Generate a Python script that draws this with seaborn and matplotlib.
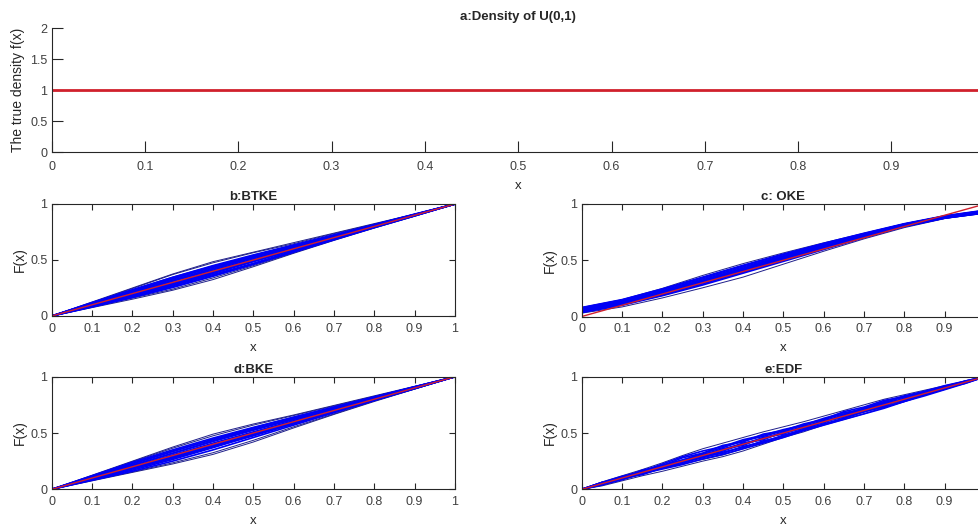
import numpy as np
import pandas as pd
import matplotlib
matplotlib.use('Agg')
import matplotlib.pyplot as plt
import seaborn as sns

# ====================== DATA ======================
# grid used for the smooth kernel estimates
x_grid = [0.0, 0.1, 0.2, 0.3, 0.4, 0.5, 0.6, 0.7, 0.8, 0.9, 1.0]
# finer grid for the empirical distribution function
x_fine = [0.0, 0.05, 0.1, 0.15, 0.2, 0.25, 0.3, 0.35, 0.4, 0.45, 0.5,
          0.55, 0.6, 0.65, 0.7, 0.75, 0.8, 0.85, 0.9, 0.95, 1.0]

density_x = [0.0, 1.0]
density_y = [1.0, 1.0]
true_cdf_x = [0.0, 1.0]
true_cdf_y = [0.0, 1.0]

btke_core = [
    [0, 0.115, 0.230, 0.345, 0.450, 0.545, 0.635, 0.725, 0.815, 0.905, 1],
    [0, 0.085, 0.170, 0.260, 0.360, 0.465, 0.575, 0.685, 0.790, 0.895, 1],
    [0, 0.110, 0.220, 0.330, 0.440, 0.540, 0.630, 0.720, 0.810, 0.905, 1],
    [0, 0.090, 0.180, 0.270, 0.370, 0.470, 0.580, 0.690, 0.800, 0.900, 1],
    [0, 0.105, 0.210, 0.315, 0.420, 0.520, 0.615, 0.710, 0.805, 0.900, 1],
    [0, 0.095, 0.190, 0.290, 0.390, 0.490, 0.590, 0.690, 0.795, 0.900, 1],
    [0, 0.100, 0.205, 0.310, 0.410, 0.510, 0.610, 0.710, 0.810, 0.905, 1],
    [0, 0.115, 0.225, 0.335, 0.435, 0.530, 0.620, 0.715, 0.810, 0.905, 1],
    [0, 0.085, 0.175, 0.275, 0.380, 0.485, 0.590, 0.700, 0.800, 0.900, 1],
    [0, 0.100, 0.195, 0.295, 0.400, 0.500, 0.600, 0.700, 0.800, 0.900, 1],
    [0, 0.110, 0.215, 0.320, 0.425, 0.525, 0.625, 0.720, 0.815, 0.910, 1],
    [0, 0.090, 0.185, 0.285, 0.385, 0.490, 0.595, 0.695, 0.795, 0.895, 1],
    [0, 0.120, 0.235, 0.345, 0.445, 0.535, 0.625, 0.715, 0.810, 0.905, 1],
    [0, 0.080, 0.165, 0.255, 0.355, 0.460, 0.570, 0.680, 0.790, 0.895, 1],
]
btke_outer = [
    [0, 0.120, 0.245, 0.370, 0.475, 0.565, 0.645, 0.735, 0.820, 0.910, 1],
    [0, 0.080, 0.160, 0.240, 0.340, 0.450, 0.565, 0.680, 0.790, 0.895, 1],
    [0, 0.125, 0.250, 0.375, 0.485, 0.570, 0.655, 0.740, 0.825, 0.910, 1],
    [0, 0.075, 0.150, 0.230, 0.325, 0.440, 0.560, 0.675, 0.785, 0.890, 1],
]

oke_core = [
    [0.060, 0.130, 0.220, 0.320, 0.425, 0.530, 0.630, 0.725, 0.815, 0.885, 0.930],
    [0.050, 0.120, 0.210, 0.310, 0.415, 0.520, 0.620, 0.720, 0.810, 0.880, 0.925],
    [0.070, 0.140, 0.230, 0.335, 0.440, 0.540, 0.640, 0.730, 0.820, 0.890, 0.940],
    [0.040, 0.110, 0.200, 0.300, 0.405, 0.510, 0.610, 0.710, 0.805, 0.875, 0.920],
    [0.080, 0.150, 0.245, 0.350, 0.455, 0.555, 0.650, 0.740, 0.825, 0.895, 0.945],
    [0.055, 0.125, 0.215, 0.315, 0.420, 0.525, 0.625, 0.720, 0.810, 0.885, 0.930],
    [0.065, 0.135, 0.225, 0.325, 0.430, 0.535, 0.635, 0.730, 0.820, 0.890, 0.935],
    [0.045, 0.115, 0.205, 0.305, 0.410, 0.515, 0.615, 0.715, 0.805, 0.880, 0.925],
    [0.035, 0.100, 0.185, 0.280, 0.385, 0.490, 0.595, 0.700, 0.800, 0.875, 0.920],
    [0.075, 0.145, 0.240, 0.345, 0.450, 0.550, 0.645, 0.735, 0.820, 0.890, 0.940],
    [0.040, 0.105, 0.190, 0.290, 0.395, 0.500, 0.605, 0.705, 0.800, 0.875, 0.925],
]
oke_outer = [
    [0.080, 0.150, 0.250, 0.365, 0.470, 0.565, 0.655, 0.740, 0.825, 0.895, 0.945],
    [0.030, 0.085, 0.165, 0.255, 0.350, 0.465, 0.580, 0.690, 0.790, 0.870, 0.920],
]

bke_core = [
    [0, 0.110, 0.225, 0.335, 0.445, 0.545, 0.640, 0.730, 0.820, 0.910, 1],
    [0, 0.090, 0.180, 0.275, 0.375, 0.475, 0.580, 0.685, 0.790, 0.895, 1],
    [0, 0.105, 0.210, 0.320, 0.425, 0.525, 0.620, 0.715, 0.810, 0.905, 1],
    [0, 0.095, 0.190, 0.285, 0.385, 0.490, 0.590, 0.695, 0.795, 0.900, 1],
    [0, 0.100, 0.200, 0.305, 0.410, 0.510, 0.610, 0.710, 0.805, 0.900, 1],
    [0, 0.115, 0.230, 0.340, 0.440, 0.535, 0.625, 0.715, 0.810, 0.905, 1],
    [0, 0.085, 0.170, 0.265, 0.370, 0.480, 0.590, 0.695, 0.800, 0.900, 1],
    [0, 0.100, 0.195, 0.295, 0.395, 0.500, 0.600, 0.700, 0.800, 0.900, 1],
    [0, 0.110, 0.215, 0.320, 0.430, 0.530, 0.630, 0.725, 0.815, 0.910, 1],
    [0, 0.090, 0.185, 0.280, 0.380, 0.485, 0.590, 0.690, 0.795, 0.895, 1],
    [0, 0.120, 0.240, 0.350, 0.455, 0.550, 0.640, 0.730, 0.820, 0.910, 1],
    [0, 0.080, 0.160, 0.250, 0.350, 0.460, 0.570, 0.680, 0.790, 0.895, 1],
]
bke_outer = [
    [0, 0.125, 0.250, 0.375, 0.490, 0.580, 0.660, 0.745, 0.830, 0.915, 1],
    [0, 0.075, 0.150, 0.225, 0.310, 0.420, 0.545, 0.665, 0.780, 0.890, 1],
    [0, 0.120, 0.245, 0.365, 0.475, 0.570, 0.655, 0.740, 0.825, 0.910, 1],
    [0, 0.080, 0.155, 0.235, 0.325, 0.435, 0.555, 0.670, 0.785, 0.890, 1],
]

edf_core = [
    [0, 0.060, 0.100, 0.170, 0.210, 0.280, 0.320, 0.390, 0.420, 0.490, 0.520,
     0.580, 0.620, 0.690, 0.730, 0.790, 0.820, 0.870, 0.910, 0.960, 1],
    [0, 0.040, 0.100, 0.130, 0.190, 0.230, 0.290, 0.320, 0.380, 0.420, 0.480,
     0.530, 0.600, 0.640, 0.700, 0.740, 0.810, 0.840, 0.900, 0.940, 1],
    [0, 0.050, 0.110, 0.140, 0.210, 0.250, 0.310, 0.350, 0.410, 0.440, 0.510,
     0.550, 0.610, 0.650, 0.710, 0.750, 0.800, 0.850, 0.900, 0.950, 1],
    [0, 0.060, 0.090, 0.160, 0.200, 0.260, 0.300, 0.360, 0.390, 0.460, 0.490,
     0.560, 0.590, 0.660, 0.690, 0.760, 0.790, 0.860, 0.890, 0.960, 1],
    [0, 0.045, 0.105, 0.150, 0.190, 0.250, 0.290, 0.340, 0.400, 0.450, 0.500,
     0.540, 0.600, 0.660, 0.720, 0.770, 0.800, 0.850, 0.910, 0.950, 1],
    [0, 0.055, 0.095, 0.155, 0.215, 0.260, 0.320, 0.370, 0.430, 0.470, 0.520,
     0.570, 0.620, 0.670, 0.720, 0.780, 0.830, 0.870, 0.920, 0.960, 1],
    [0, 0.050, 0.100, 0.145, 0.200, 0.240, 0.280, 0.330, 0.370, 0.430, 0.470,
     0.530, 0.580, 0.630, 0.690, 0.730, 0.780, 0.840, 0.890, 0.945, 1],
    [0, 0.060, 0.115, 0.160, 0.225, 0.290, 0.340, 0.380, 0.440, 0.480, 0.530,
     0.570, 0.630, 0.680, 0.710, 0.770, 0.820, 0.860, 0.910, 0.950, 1],
    [0, 0.040, 0.085, 0.140, 0.180, 0.220, 0.270, 0.310, 0.360, 0.410, 0.460,
     0.520, 0.570, 0.620, 0.670, 0.720, 0.780, 0.830, 0.885, 0.940, 1],
    [0, 0.055, 0.100, 0.150, 0.205, 0.255, 0.305, 0.355, 0.405, 0.455, 0.505,
     0.555, 0.605, 0.655, 0.705, 0.755, 0.805, 0.855, 0.900, 0.950, 1],
]
edf_outer = [
    [0, 0.065, 0.120, 0.175, 0.235, 0.300, 0.360, 0.410, 0.460, 0.510, 0.555,
     0.600, 0.650, 0.700, 0.750, 0.800, 0.840, 0.880, 0.920, 0.960, 1],
    [0, 0.030, 0.075, 0.120, 0.160, 0.205, 0.250, 0.290, 0.340, 0.400, 0.460,
     0.510, 0.570, 0.620, 0.670, 0.725, 0.780, 0.835, 0.890, 0.945, 1],
    [0, 0.035, 0.085, 0.135, 0.185, 0.225, 0.265, 0.305, 0.360, 0.415, 0.470,
     0.525, 0.580, 0.630, 0.685, 0.735, 0.790, 0.840, 0.890, 0.945, 1],
]

titles = ['a:Density of U(0,1)', 'b:BTKE', 'c: OKE', 'd:BKE', 'e:EDF']
x_ticks = [0, 0.1, 0.2, 0.3, 0.4, 0.5, 0.6, 0.7, 0.8, 0.9, 1]
x_tick_labels = ['0', '0.1', '0.2', '0.3', '0.4', '0.5', '0.6', '0.7', '0.8', '0.9', '1']
# right-hand axes run past the figure edge, so their last label is not seen
x_tick_labels_cut = x_tick_labels[:-1] + ['']
dens_ticks = [0, 0.5, 1, 1.5, 2]
dens_tick_labels = ['0', '0.5', '1', '1.5', '2']
cdf_ticks = [0, 0.5, 1]
cdf_tick_labels = ['0', '0.5', '1']


def to_long(xs, curves):
    rows = []
    for run, ys in enumerate(curves):
        for xv, yv in zip(xs, ys):
            rows.append({'x': xv, 'F': yv, 'run': run})
    return pd.DataFrame(rows)


# ====================== STYLE ======================
sns.set_theme(style='ticks')
plt.rcParams['font.family'] = ['Liberation Sans', 'DejaVu Sans']
plt.rcParams['xtick.direction'] = 'in'
plt.rcParams['ytick.direction'] = 'in'
plt.rcParams['axes.edgecolor'] = '#262626'
plt.rcParams['axes.linewidth'] = 0.8
plt.rcParams['xtick.color'] = '#262626'
plt.rcParams['ytick.color'] = '#262626'
plt.rcParams['xtick.labelcolor'] = '#404040'
plt.rcParams['ytick.labelcolor'] = '#404040'
plt.rcParams['xtick.labelsize'] = 9
plt.rcParams['ytick.labelsize'] = 9

RED = '#d0202c'
BLUE = '#0000f5'
NAVY = '#1f1f8a'
W, H = 979, 527

fig = plt.figure(figsize=(W / 100, H / 100), dpi=100)

# axes rectangles in pixels (left, top, right, bottom); the right column runs past the edge
def px_axes(l, t, r, b):
    return fig.add_axes([l / W, 1 - b / H, (r - l) / W, (b - t) / H])

ax_a = px_axes(51.7, 28.3, 984.7, 152.3)
ax_b = px_axes(51.7, 204, 455, 316)
ax_c = px_axes(581.7, 204, 985, 316.5)
ax_d = px_axes(51.7, 376.7, 455, 489.3)
ax_e = px_axes(581.7, 376.7, 985, 489.3)

# ---- a: true density ----
sns.lineplot(x=density_x, y=density_y, ax=ax_a, color=RED, lw=2, legend=False)
ax_a.set_xlim(0, 1)
ax_a.set_ylim(0, 2)
ax_a.set_xticks(x_ticks, x_tick_labels_cut)
ax_a.set_yticks(dens_ticks, dens_tick_labels)
ax_a.tick_params(axis='x', length=8, width=0.8, pad=6)
ax_a.tick_params(axis='y', length=8, width=0.8, pad=3)
ax_a.spines['top'].set_visible(False)
ax_a.spines['right'].set_visible(False)
ax_a.set_xlabel('x', fontsize=9.5, labelpad=5, color='#262626')
ax_a.set_ylabel('The true density f(x)', fontsize=10, color='#262626')
ax_a.yaxis.set_label_coords((25 - 51.7) / 933, 0.5)
ax_a.set_title(titles[0], fontsize=9.5, fontweight='bold', pad=6)

# ---- b..e: distribution function estimates ----
panels = [
    (ax_b, x_grid, btke_core, btke_outer, titles[1], x_tick_labels),
    (ax_c, x_grid, oke_core, oke_outer, titles[2], x_tick_labels_cut),
    (ax_d, x_grid, bke_core, bke_outer, titles[3], x_tick_labels),
    (ax_e, x_fine, edf_core, edf_outer, titles[4], x_tick_labels_cut),
]
for ax, xs, core, outer, title, xlabels in panels:
    sns.lineplot(data=to_long(xs, outer), x='x', y='F', units='run', estimator=None,
                 ax=ax, color=NAVY, lw=0.7, legend=False)
    sns.lineplot(data=to_long(xs, core), x='x', y='F', units='run', estimator=None,
                 ax=ax, color=BLUE, lw=1.2, legend=False)
    sns.lineplot(x=true_cdf_x, y=true_cdf_y, ax=ax, color=RED, lw=1.0, legend=False)
    ax.set_xlim(0, 1)
    ax.set_ylim(0, 1)
    ax.set_xticks(x_ticks, xlabels)
    ax.set_yticks(cdf_ticks, cdf_tick_labels)
    ax.tick_params(axis='x', top=True, length=4, width=0.8, pad=5)
    ax.tick_params(axis='y', right=True, length=4, width=0.8, pad=3)
    for sp in ax.spines.values():
        sp.set_visible(True)
    ax.set_xlabel('x', fontsize=9.5, labelpad=5, color='#262626')
    ax.set_ylabel('F(x)', fontsize=10, color='#262626')
    ax.yaxis.set_label_coords(-25 / 403.3, 0.5)
    ax.set_title(title, fontsize=9.5, fontweight='bold', pad=3)

fig.savefig('out.png', dpi=100, facecolor='white')
